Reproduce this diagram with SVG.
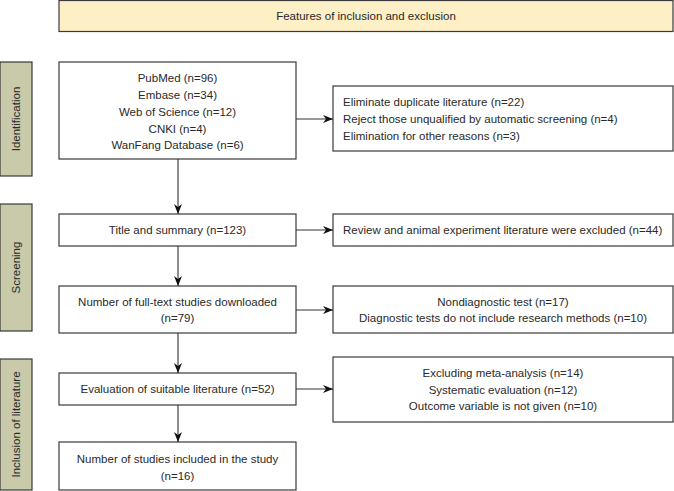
<svg xmlns="http://www.w3.org/2000/svg" width="674" height="491" viewBox="0 0 674 491">
<defs>
<style>
.box{fill:#fff;stroke:#3a3a3a;stroke-width:1.2}
.lab{fill:#c9caa9;stroke:#3a3a3a;stroke-width:1.2}
.hdr{fill:#fdefc6;stroke:#3a3a3a;stroke-width:1.2}
text{font-family:"Liberation Sans",Arial,sans-serif;font-size:11.5px;fill:#2a2a2a}
.c{text-anchor:middle}
.conn{stroke:#333;stroke-width:1.1;fill:none;marker-end:url(#ah)}
</style>
<marker id="ah" markerWidth="10" markerHeight="8" refX="10" refY="4" orient="auto" markerUnits="userSpaceOnUse">
<path d="M0,0 L10,4 L0,8 L3,4 z" fill="#111"/>
</marker>
</defs>
<g id="header"><rect class="hdr" x="59" y="0.5" width="614" height="31"/><text class="c" x="366" y="20">Features of inclusion and exclusion</text></g>
<g id="lab-identification"><rect class="lab" x="0" y="62" width="32" height="114"/><text class="c" transform="translate(20,119) rotate(-90)">Identification</text></g>
<g id="lab-screening"><rect class="lab" x="0" y="204" width="32" height="127"/><text class="c" transform="translate(20,267.5) rotate(-90)">Screening</text></g>
<g id="lab-inclusion"><rect class="lab" x="0" y="359" width="32" height="131"/><text class="c" transform="translate(20,424.5) rotate(-90)">Inclusion of literature</text></g>
<g id="n1"><rect class="box" x="59" y="62" width="237" height="97"/>
<text class="c" x="177.5" y="82">PubMed (n=96)</text>
<text class="c" x="177.5" y="99">Embase (n=34)</text>
<text class="c" x="177.5" y="116">Web of Science (n=12)</text>
<text class="c" x="177.5" y="132.5">CNKI (n=4)</text>
<text class="c" x="177.5" y="149">WanFang Database (n=6)</text></g>
<g id="e1"><rect class="box" x="333" y="86" width="340" height="65"/>
<text x="343" y="106">Eliminate duplicate literature (n=22)</text>
<text x="343" y="123">Reject those unqualified by automatic screening (n=4)</text>
<text x="343" y="140">Elimination for other reasons (n=3)</text></g>
<g id="n2"><rect class="box" x="59" y="214" width="237" height="32"/><text class="c" x="177.5" y="234">Title and summary (n=123)</text></g>
<g id="e2"><rect class="box" x="333" y="214" width="340" height="32"/><text x="343" y="234">Review and animal experiment literature were excluded (n=44)</text></g>
<g id="n3"><rect class="box" x="59" y="286" width="237" height="47"/>
<text class="c" x="177.5" y="306">Number of full-text studies downloaded</text>
<text class="c" x="177.5" y="322">(n=79)</text></g>
<g id="e3"><rect class="box" x="333" y="286" width="340" height="47"/>
<text class="c" x="503" y="306">Nondiagnostic test (n=17)</text>
<text class="c" x="503" y="322">Diagnostic tests do not include research methods (n=10)</text></g>
<g id="n4"><rect class="box" x="59" y="373" width="237" height="32"/><text class="c" x="177.5" y="393">Evaluation of suitable literature (n=52)</text></g>
<g id="e4"><rect class="box" x="333" y="357" width="340" height="65"/>
<text class="c" x="503" y="377">Excluding meta-analysis (n=14)</text>
<text class="c" x="503" y="394">Systematic evaluation (n=12)</text>
<text class="c" x="503" y="410">Outcome variable is not given (n=10)</text></g>
<g id="n5"><rect class="box" x="59" y="442" width="237" height="48"/>
<text class="c" x="177.5" y="463">Number of studies included in the study</text>
<text class="c" x="177.5" y="480">(n=16)</text></g>
<g id="connectors">
<line class="conn" x1="178" y1="159" x2="178" y2="214"/>
<line class="conn" x1="178" y1="246" x2="178" y2="286"/>
<line class="conn" x1="178" y1="333" x2="178" y2="373"/>
<line class="conn" x1="178" y1="405" x2="178" y2="442"/>
<line class="conn" x1="296" y1="119" x2="333" y2="119"/>
<line class="conn" x1="296" y1="230" x2="333" y2="230"/>
<line class="conn" x1="296" y1="310" x2="333" y2="310"/>
<line class="conn" x1="296" y1="389" x2="333" y2="389"/>
</g>
</svg>
